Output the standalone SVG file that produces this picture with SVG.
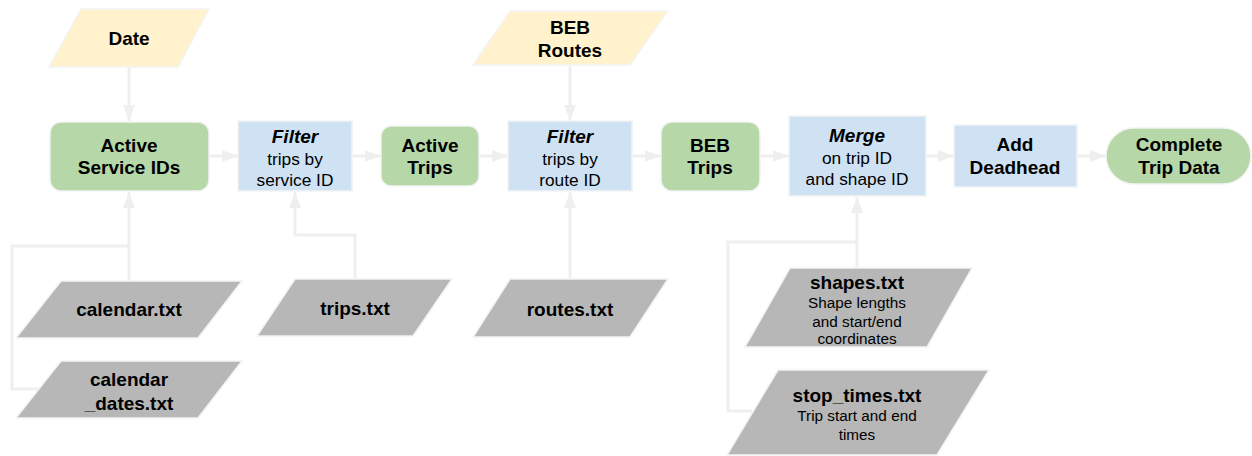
<svg xmlns="http://www.w3.org/2000/svg" width="1252" height="456" viewBox="0 0 1252 456">
  <style>
    text { font-family: "Liberation Sans", Arial, sans-serif; fill: #000; text-anchor: middle; }
    .b { font-weight: bold; font-size: 19px; }
    .bi { font-weight: bold; font-style: italic; font-size: 19px; }
    .r { font-size: 17.3px; }
    .s { font-size: 15.3px; }
    .input { fill: #fff2cc; stroke: #f3f3f3; stroke-width: 1.5; }
    .data { fill: #b6d7a8; stroke: #f3f3f3; stroke-width: 1.5; }
    .step { fill: #cfe2f3; stroke: #f3f3f3; stroke-width: 1.5; }
    .file { fill: #b7b7b7; stroke: #f3f3f3; stroke-width: 1.5; }
    .link { fill: none; stroke: #efefef; stroke-width: 3; }
  </style>
  <defs>
    <marker id="arrow" markerUnits="userSpaceOnUse" markerWidth="16" markerHeight="12" refX="16" refY="6" orient="auto">
      <path d="M0,0 L16,6 L0,12 z" fill="#efefef"/>
    </marker>
  </defs>

  <!-- connectors -->
  <g id="connectors">
    <path class="link" d="M129,67 V121" marker-end="url(#arrow)"/>
    <path class="link" d="M570,66 V121" marker-end="url(#arrow)"/>
    <path class="link" d="M209,156 H238" marker-end="url(#arrow)"/>
    <path class="link" d="M352,156 H381" marker-end="url(#arrow)"/>
    <path class="link" d="M479,156 H508" marker-end="url(#arrow)"/>
    <path class="link" d="M632,156 H661" marker-end="url(#arrow)"/>
    <path class="link" d="M760,156 H789" marker-end="url(#arrow)"/>
    <path class="link" d="M926,156 H954" marker-end="url(#arrow)"/>
    <path class="link" d="M1077,156 H1106" marker-end="url(#arrow)"/>
    <path class="link" d="M129,281 V192" marker-end="url(#arrow)"/>
    <path class="link" d="M39,389 H12 V246 H129"/>
    <path class="link" d="M355,279 V235 H295 V192" marker-end="url(#arrow)"/>
    <path class="link" d="M570,279 V192" marker-end="url(#arrow)"/>
    <path class="link" d="M857,268 V197" marker-end="url(#arrow)"/>
    <path class="link" d="M752,411 H728 V242 H857"/>
  </g>

  <g id="date">
    <polygon class="input" points="81,9 209,9 178,67 49,67"/>
    <text class="b" x="129" y="45">Date</text>
  </g>

  <g id="beb-routes">
    <polygon class="input" points="510,11 668,11 630,65 473,65"/>
    <text class="b" x="570" y="34">BEB</text>
    <text class="b" x="570" y="57">Routes</text>
  </g>

  <g id="active-service-ids">
    <rect class="data" x="50" y="122" width="159" height="69" rx="11"/>
    <text class="b" x="129" y="152">Active</text>
    <text class="b" x="129" y="174">Service IDs</text>
  </g>

  <g id="filter-service">
    <rect class="step" x="238" y="121" width="114" height="70"/>
    <text class="bi" x="295" y="143">Filter</text>
    <text class="r" x="295" y="165">trips by</text>
    <text class="r" x="295" y="186">service ID</text>
  </g>

  <g id="active-trips">
    <rect class="data" x="381" y="126" width="98" height="60" rx="10"/>
    <text class="b" x="430" y="152">Active</text>
    <text class="b" x="430" y="174">Trips</text>
  </g>

  <g id="filter-route">
    <rect class="step" x="508" y="121" width="124" height="70"/>
    <text class="bi" x="570" y="143">Filter</text>
    <text class="r" x="570" y="165">trips by</text>
    <text class="r" x="570" y="186">route ID</text>
  </g>

  <g id="beb-trips">
    <rect class="data" x="661" y="122" width="99" height="69" rx="11"/>
    <text class="b" x="710" y="152">BEB</text>
    <text class="b" x="710" y="174">Trips</text>
  </g>

  <g id="merge">
    <rect class="step" x="789" y="116" width="137" height="80"/>
    <text class="bi" x="857" y="142">Merge</text>
    <text class="r" x="857" y="164">on trip ID</text>
    <text class="r" x="857" y="185">and shape ID</text>
  </g>

  <g id="add-deadhead">
    <rect class="step" x="954" y="125" width="123" height="62"/>
    <text class="b" x="1015" y="151">Add</text>
    <text class="b" x="1015" y="174">Deadhead</text>
  </g>

  <g id="complete-trip-data">
    <rect class="data" x="1106" y="128" width="145" height="56" rx="28"/>
    <text class="b" x="1179" y="151">Complete</text>
    <text class="b" x="1179" y="174">Trip Data</text>
  </g>

  <g id="calendar">
    <polygon class="file" points="61,281 242,281 198,338 16,338"/>
    <text class="b" x="129" y="316">calendar.txt</text>
  </g>

  <g id="calendar-dates">
    <polygon class="file" points="61,361 242,361 198,418 16,418"/>
    <text class="b" x="129" y="386">calendar</text>
    <text class="b" x="129" y="410">_dates.txt</text>
  </g>

  <g id="trips">
    <polygon class="file" points="295,279 452,279 413,336 257,336"/>
    <text class="b" x="355" y="315">trips.txt</text>
  </g>

  <g id="routes">
    <polygon class="file" points="510,279 668,279 630,337 473,337"/>
    <text class="b" x="570" y="316">routes.txt</text>
  </g>

  <g id="shapes">
    <polygon class="file" points="790,268 972,268 927,347 745,347"/>
    <text class="b" x="857" y="289">shapes.txt</text>
    <text class="s" x="857" y="308">Shape lengths</text>
    <text class="s" x="857" y="327">and start/end</text>
    <text class="s" x="857" y="344">coordinates</text>
  </g>

  <g id="stop-times">
    <polygon class="file" points="778,370 989,370 937,455 727,455"/>
    <text class="b" x="857" y="402">stop_times.txt</text>
    <text class="s" x="857" y="421">Trip start and end</text>
    <text class="s" x="857" y="440">times</text>
  </g>
</svg>
